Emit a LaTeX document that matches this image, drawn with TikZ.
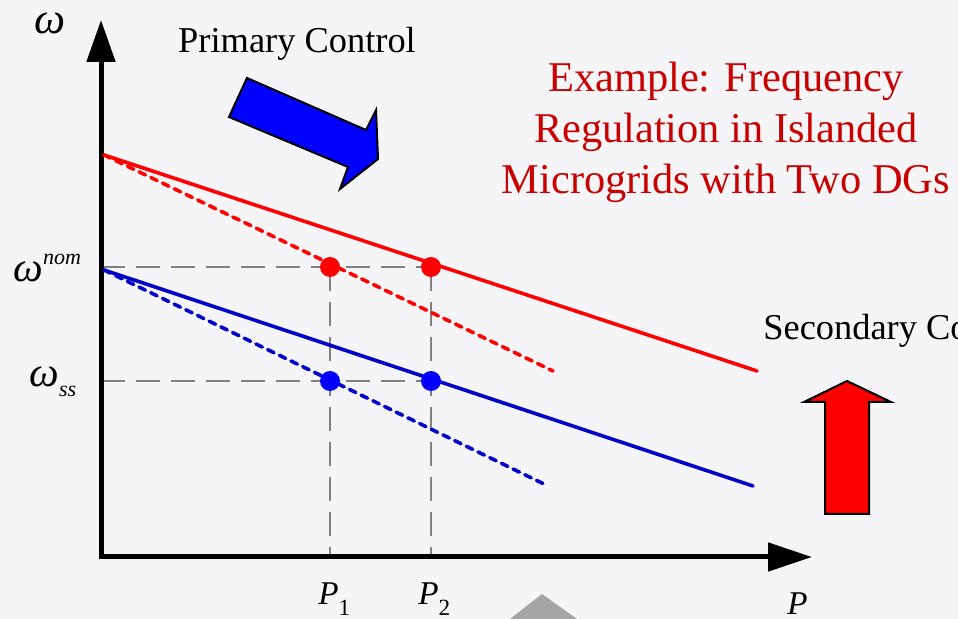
\documentclass[tikz,border=0pt]{standalone}
\usepackage{fontspec}
\setmainfont{Liberation Serif}
\usetikzlibrary{arrows.meta,calc}
\definecolor{bgcol}{RGB}{245,245,248}
\definecolor{titlered}{RGB}{200,0,0}
\definecolor{droopblue}{RGB}{0,0,200}
\definecolor{guidegray}{RGB}{128,128,128}
\definecolor{wedgegray}{RGB}{165,165,165}
\tikzset{
  axis/.style={line width=2.5pt, line join=miter,
    {Triangle[length=21pt,width=14pt]}-{Triangle[length=22pt,width=14pt]}},
  guide/.style={guidegray, line width=1.2pt, dash pattern=on 12pt off 5.5pt},
  droop/.style={line width=1.8pt, line cap=round},
  shifted/.style={line width=1.8pt, line cap=round, dash pattern=on 3.5pt off 3pt},
  wlab/.style={font=\fontsize{21}{25}\selectfont\itshape, inner sep=0pt},
  plab/.style={font=\fontsize{16.6}{20}\selectfont\itshape, inner sep=0pt},
  bigarrow/.style={line width=1pt, draw=black, line join=miter}
}
\begin{document}
\begin{tikzpicture}[x=0.5pt, y=-0.5pt, line join=round]
				\useasboundingbox (0,0) rectangle (958,619);
				\clip (0,0) rectangle (958,619);
				\fill[bgcol] (0,0) rectangle (958,619);
				\fill[wedgegray] (542,594)--(510,619)--(577,619)--cycle;
				% axes and points
				\foreach \x/\y/\t in {101/20/Ytip,101/557/O,812/557/Xtip,104/155/Rs,757/371/Re,553/371/Rd,104/270/Bs,753/486/Be,548/486/Bd,330/267/R1,431/267/R2,330/381/B1,431/381/B2,101/267/Wnom,101/381/Wss,330/557/P1,431/557/P2}
				\coordinate (\t) at (\x,\y);
				\draw[guide] (Wnom)--(R2) (Wss)--(B2) (R1)--(P1) (R2)--(P2);
				\draw[axis] (Ytip)--(O)--(Xtip);
				\draw[droop, red] (Rs)--(Re);
				\draw[shifted, red] (Rs)--(Rd);
				\draw[droop, droopblue] (Bs)--(Be);
				\draw[shifted, droopblue] (Bs)--(Bd);
				\foreach \t/\c in {R1/red,R2/red,B1/blue,B2/blue}
				\fill[\c] (\t) circle(5pt);
				% block arrows
				\draw[bigarrow, fill=blue] (247,78)--(366,130)--(376,110)--(378,159)--(340,189)--(348,167)--(229,117)--cycle;
				\draw[bigarrow, fill=red] (847,381)--(891,402)--(869,402)--(869,514)--(825,514)--(825,402)--(804,402)--cycle;
				% labels
				\node[wlab, font=\fontsize{22}{26}\selectfont\itshape, anchor=base] (wAxis) at (50,34) {ω};
				\node[wlab, anchor=base west] (wNom) at (13,282) {ω\raisebox{8.5pt}{\fontsize{11}{13}\selectfont nom}};
				\node[wlab, anchor=base west] (wSs) at (29,387) {ω\raisebox{-5pt}{\fontsize{11}{13}\selectfont ss}};
				\node[plab, anchor=base west] (pOne) at (318,604) {P\raisebox{-5.75pt}{\fontsize{11.6}{14}\selectfont\upshape 1}};
				\node[plab, anchor=base west] (pTwo) at (418,604) {P\raisebox{-5.75pt}{\fontsize{11.6}{14}\selectfont\upshape 2}};
				\node[plab, anchor=base west] (pAxis) at (787,614) {P};
				\node[font=\fontsize{18.2}{22}\selectfont, anchor=base, inner sep=0pt] (primary) at (297,53) {Primary Control};
				\node[font=\fontsize{18.2}{22}\selectfont, anchor=base west, inner sep=0pt] (secondary) at (763,340) {Secondary Control};
				\node[font=\fontsize{21.2}{25.5}\selectfont, text=titlered, align=center, inner sep=0pt] (title) at (726,132) {Example: Frequency\\Regulation in Islanded\\Microgrids with Two DGs};
\end{tikzpicture}
\end{document}
